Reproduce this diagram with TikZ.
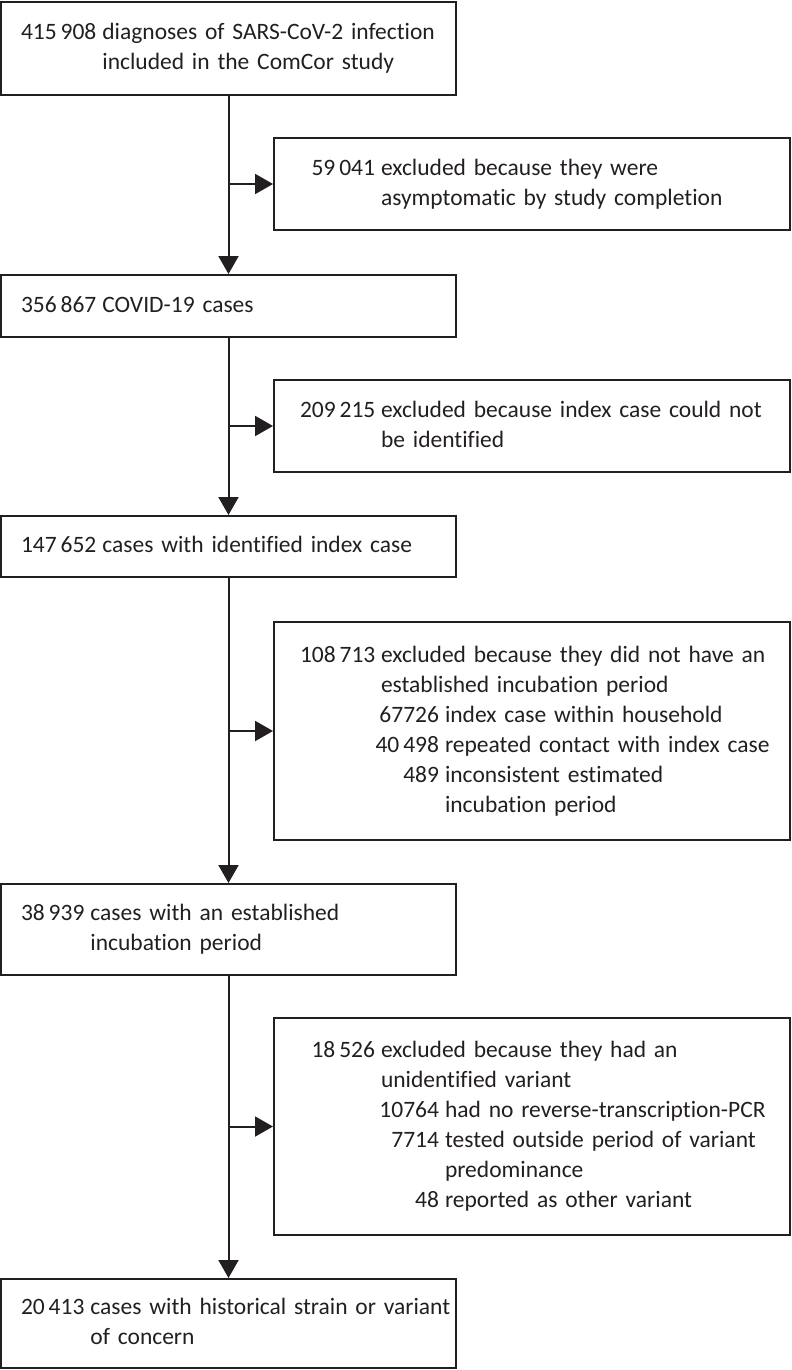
\documentclass[tikz,border=0pt]{standalone}
\usepackage{fontspec}
\setmainfont{Carlito}[Ligatures=NoCommon]
\usepackage{array}
\usetikzlibrary{arrows.meta}
\definecolor{ink}{HTML}{231F20}
\newcommand{\subn}[1]{\makebox[58pt][r]{#1}\hspace{6pt}}
\newcommand{\boxfont}{\fontsize{23.5}{30}\selectfont\spaceskip=4pt plus 1pt minus 1pt\relax}
\begin{document}
\begin{tikzpicture}[x=1pt,y=-1pt,
  box/.style={draw=ink, line width=2pt, rectangle, inner ysep=0pt, align=left, text=ink,
    font=\boxfont},
  mainbox/.style={box, minimum width=455pt, inner xsep=20pt, text width=415pt},
  exbox/.style={box, minimum width=516pt, inner xsep=26pt, text width=464pt},
  arr/.style={draw=ink, line width=2pt, -{Triangle[length=18pt,width=20pt]}}]
\useasboundingbox (0,0) rectangle (792,1370);

\node[mainbox, minimum height=93pt] (b1) at (228.5,48.5) {%
\begin{tabular}{@{}r@{\hspace{6pt}}l@{}}
415\,908 & diagnoses of SARS-CoV-2 infection\\
 & included in the ComCor study
\end{tabular}};

\node[exbox, minimum height=92pt] (b2) at (532,184) {%
\begin{tabular}{@{}>{\raggedleft\arraybackslash}p{75pt}@{\hspace{6pt}}l@{}}
59\,041 & excluded because they were\\
 & asymptomatic by study completion
\end{tabular}};

\node[mainbox, minimum height=62pt] (b3) at (228.5,306) {%
\begin{tabular}{@{}r@{\hspace{6pt}}l@{}}
356\,867 & COVID-19 cases
\end{tabular}};

\node[exbox, minimum height=92pt] (b4) at (532,426) {%
\begin{tabular}{@{}>{\raggedleft\arraybackslash}p{75pt}@{\hspace{6pt}}l@{}}
209\,215 & excluded because index case could not\\
 & be identified
\end{tabular}};

\node[mainbox, minimum height=61pt] (b5) at (228.5,546.5) {%
\begin{tabular}{@{}r@{\hspace{6pt}}l@{}}
147\,652 & cases with identified index case
\end{tabular}};

\node[exbox, minimum height=218pt] (b6) at (532,731) {%
\begin{tabular}{@{}>{\raggedleft\arraybackslash}p{75pt}@{\hspace{6pt}}l@{}}
108\,713 & excluded because they did not have an\\
 & established incubation period\\
 & \subn{67726}index case within household\\
 & \subn{40\,498}repeated contact with index case\\
 & \subn{489}inconsistent estimated\\
 & \hspace{64pt}incubation period
\end{tabular}};

\node[mainbox, minimum height=91pt] (b7) at (228.5,929.5) {%
\begin{tabular}{@{}r@{\hspace{6pt}}l@{}}
38\,939 & cases with an established\\
 & incubation period
\end{tabular}};

\node[exbox, minimum height=217pt] (b8) at (532,1126.5) {%
\begin{tabular}{@{}>{\raggedleft\arraybackslash}p{75pt}@{\hspace{6pt}}l@{}}
18\,526 & excluded because they had an\\
 & unidentified variant\\
 & \subn{10764}had no reverse-transcription-PCR\\
 & \subn{7714}tested outside period of variant\\
 & \hspace{64pt}predominance\\
 & \subn{48}reported as other variant
\end{tabular}};

\node[mainbox, minimum height=89pt] (b9) at (228.5,1323.5) {%
\begin{tabular}{@{}r@{\hspace{6pt}}l@{}}
20\,413 & cases with historical strain or variant\\
 & of concern
\end{tabular}};

% main flow
\draw[arr] (b1) -- (b3);
\draw[arr] (b3) -- (b5);
\draw[arr] (b5) -- (b7);
\draw[arr] (b7) -- (b9);

% side branches
\coordinate (j1) at (b2.west -| b1.south);
\coordinate (j2) at (b4.west -| b3.south);
\coordinate (j3) at (b6.west -| b5.south);
\coordinate (j4) at (b8.west -| b7.south);
\draw[arr] (j1) -- (b2);
\draw[arr] (j2) -- (b4);
\draw[arr] (j3) -- (b6);
\draw[arr] (j4) -- (b8);
\end{tikzpicture}
\end{document}
